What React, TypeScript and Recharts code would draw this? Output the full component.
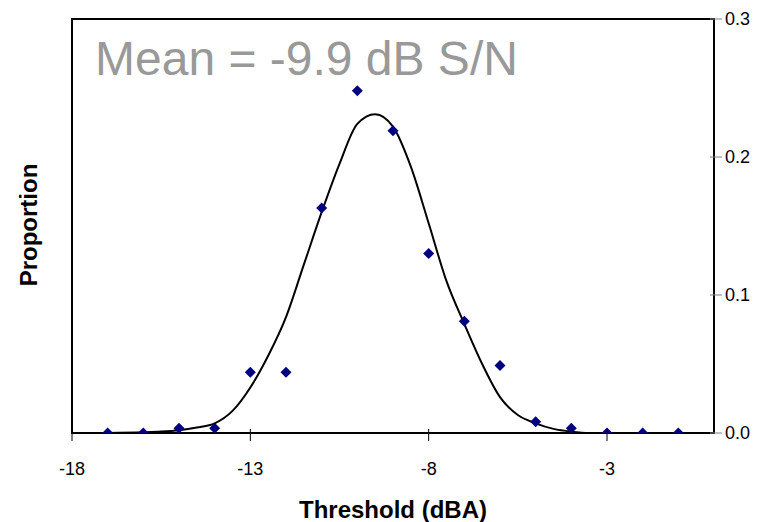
import React from "react";
import {
  ComposedChart,
  Line,
  Scatter,
  XAxis,
  YAxis,
  ReferenceArea,
  Customized,
} from "recharts";

const xTicks = [-18, -13, -8, -3];
const yTicks = [0, 0.1, 0.2, 0.3];

const obsX = [-17, -16, -15, -14, -13, -12, -11, -10, -9, -8, -7, -6, -5, -4, -3, -2, -1];
const obsY = [0, 0, 0.0035, 0.0035, 0.044, 0.044, 0.163, 0.248, 0.219, 0.13, 0.081, 0.049, 0.0082, 0.0035, 0, 0, 0];

const fitX = [-17, -16, -15.5, -15, -14.5, -14, -13.5, -13, -12.5, -12, -11.5, -11, -10.5, -10, -9.5, -9, -8.5, -8, -7.5, -7, -6.5, -6, -5.5, -5, -4.5, -4, -3.5, -3];
const fitY = [0, 0.0005, 0.001, 0.002, 0.004, 0.007, 0.016, 0.033, 0.056, 0.084, 0.122, 0.16, 0.195, 0.224, 0.231, 0.222, 0.193, 0.152, 0.11, 0.079, 0.05, 0.026, 0.013, 0.007, 0.003, 0.001, 0, 0];

const obsData = obsX.map((x, i) => ({ x, y: obsY[i] }));
const fitData = fitX.map((x, i) => ({ x, y: fitY[i] }));

const FONT = "Arial, 'Liberation Sans', sans-serif";

const Diamond = (props: any) => {
  const { cx, cy } = props;
  if (cx == null || cy == null) return null;
  const r = 5.5;
  return (
    <polygon
      points={`${cx},${cy - r} ${cx + r},${cy} ${cx},${cy + r} ${cx - r},${cy}`}
      fill="#000080"
    />
  );
};

const XTick = (props: any) => {
  const { x, y, payload } = props;
  return (
    <g>
      <line x1={x} x2={x} y1={y - 6} y2={y + 6} stroke="#000" strokeWidth={1} />
      <text x={x} y={y + 40} textAnchor="middle" fontFamily={FONT} fontSize={18} fill="#000">
        {payload.value}
      </text>
    </g>
  );
};

const YTick = (props: any) => {
  const { x, y, payload } = props;
  return (
    <g>
      <line x1={x - 6} x2={x + 6} y1={y} y2={y} stroke="#808080" strokeWidth={1} />
      <text x={x + 9} y={y} dy="0.36em" textAnchor="start" fontFamily={FONT} fontSize={18} fill="#000">
        {Number(payload.value).toFixed(1)}
      </text>
    </g>
  );
};

const Annotations = () => (
  <g>
    <text x={87} y={67} fontFamily={FONT} fontSize={48} fill="#999999">
      Mean = -9.9 dB S/N
    </text>
    <text
      x={20}
      y={217}
      transform="rotate(-90 20 217)"
      textAnchor="middle"
      dominantBaseline="central"
      fontFamily={FONT}
      fontSize={24}
      fontWeight="bold"
      fill="#000"
    >
      Proportion
    </text>
    <text
      x={385}
      y={501}
      textAnchor="middle"
      dominantBaseline="central"
      fontFamily={FONT}
      fontSize={24}
      fontWeight="bold"
      fill="#000"
    >
      Threshold (dBA)
    </text>
  </g>
);

export default function App() {
  return (
    <div style={{ width: 759, height: 514, background: "#fff" }}>
      <ComposedChart
        width={759}
        height={514}
        margin={{ top: 11, right: 0, bottom: 0, left: 64 }}
      >
        <XAxis
          type="number"
          dataKey="x"
          domain={[-18, 0]}
          ticks={xTicks}
          allowDataOverflow
          height={89}
          tickSize={0}
          tickLine={false}
          axisLine={{ stroke: "#000", strokeWidth: 2 }}
          tick={<XTick />}
          interval={0}
        />
        <YAxis
          type="number"
          orientation="right"
          domain={[0, 0.3]}
          ticks={yTicks}
          allowDataOverflow
          width={53}
          tickSize={0}
          tickLine={false}
          axisLine={{ stroke: "#000", strokeWidth: 2 }}
          tick={<YTick />}
          interval={0}
        />
        <ReferenceArea
          x1={-18}
          x2={0}
          y1={0}
          y2={0.3}
          fill="none"
          fillOpacity={0}
          stroke="#000"
          strokeWidth={2}
          ifOverflow="visible"
        />
        <Line
          data={fitData}
          dataKey="y"
          type="monotone"
          stroke="#000"
          strokeWidth={2}
          dot={false}
          activeDot={false}
          isAnimationActive={false}
        />
        <Scatter
          data={obsData}
          dataKey="y"
          fill="#000080"
          shape={<Diamond />}
          isAnimationActive={false}
        />
        <Customized component={Annotations} />
      </ComposedChart>
    </div>
  );
}
